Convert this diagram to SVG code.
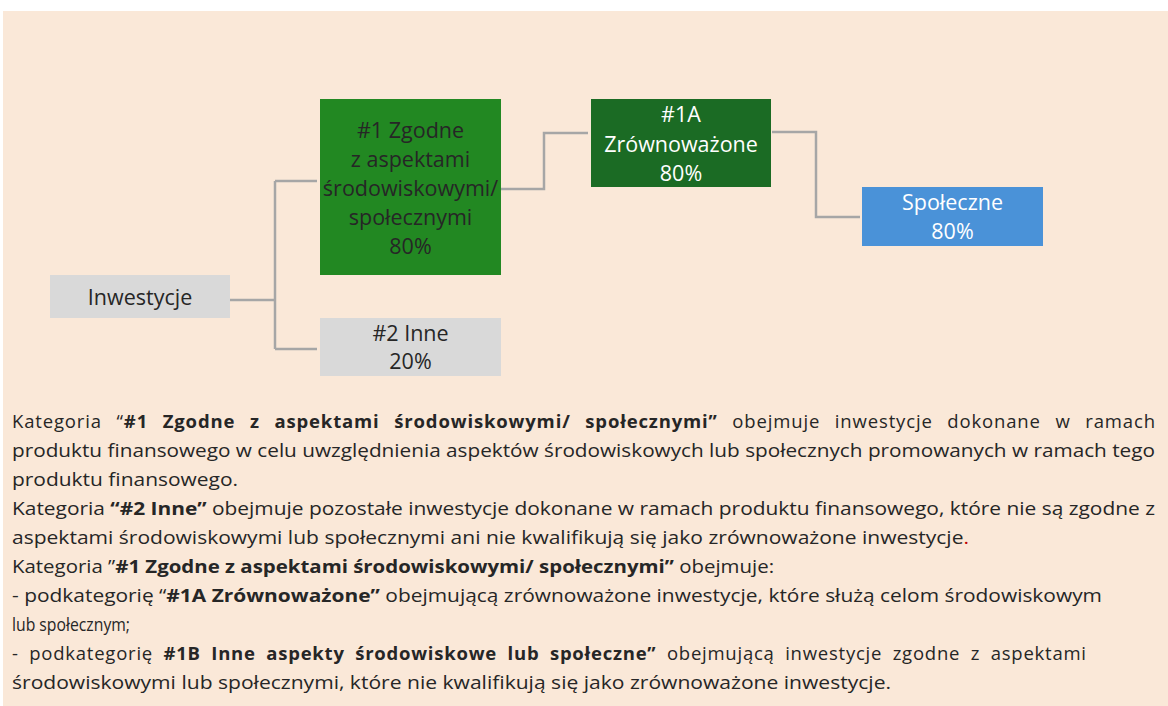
<svg xmlns="http://www.w3.org/2000/svg" width="1168" height="706" viewBox="0 0 1168 706">
<style>
.bt{font-family:"Open Sans","Liberation Sans",sans-serif;font-size:21.5px;text-anchor:middle}
.dk{fill:#262626}
.wt{fill:#ffffff}
.p{font-family:"Open Sans","Liberation Sans",sans-serif;font-size:18.5px;fill:#262626}
.b{font-weight:700}
.con{fill:none;stroke:#A6A6A6;stroke-width:2.5}
</style>
<rect x="3" y="11" width="1165" height="695" fill="#FAE8D8"/>
<g id="connectors">
<path class="con" d="M230,300 H275 M275,181 V349 M275,181 H317 M275,349 H317"/>
<path class="con" d="M501,189 H544 V133 H588"/>
<path class="con" d="M772,132 H816 V217 H860"/>
</g>
<g id="inwestycje">
<rect x="50" y="275" width="180" height="43" fill="#D9D9D9"/>
<text class="bt dk" x="140" y="305">Inwestycje</text>
</g>
<g id="zgodne">
<rect x="320" y="99" width="181" height="176" fill="#228822"/>
<text class="bt dk" x="410.5" y="137.5">#1 Zgodne</text>
<text class="bt dk" x="410.5" y="166.5">z aspektami</text>
<text class="bt dk" x="410.5" y="195.5">środowiskowymi/</text>
<text class="bt dk" x="410.5" y="224.5">społecznymi</text>
<text class="bt dk" x="410.5" y="253.5">80%</text>
</g>
<g id="inne">
<rect x="320" y="318" width="181" height="58" fill="#D9D9D9"/>
<text class="bt dk" x="410.5" y="341">#2 Inne</text>
<text class="bt dk" x="410.5" y="369">20%</text>
</g>
<g id="zrownowazone">
<rect x="591" y="99" width="180" height="88" fill="#1B6B24"/>
<text class="bt wt" x="681" y="122">#1A</text>
<text class="bt wt" x="681" y="152">Zrównoważone</text>
<text class="bt wt" x="681" y="181">80%</text>
</g>
<g id="spoleczne">
<rect x="862" y="187" width="181" height="59" fill="#4A92D8"/>
<text class="bt wt" x="952.5" y="210">Społeczne</text>
<text class="bt wt" x="952.5" y="239">80%</text>
</g>
<g id="opis">
<text class="p" x="12" y="428" word-spacing="9" textLength="1143" lengthAdjust="spacing">Kategoria “<tspan class="b">#1 Zgodne z aspektami środowiskowymi/ społecznymi”</tspan> obejmuje inwestycje dokonane w ramach</text>
<text class="p" x="12" y="457" textLength="1143" lengthAdjust="spacingAndGlyphs">produktu finansowego w celu uwzględnienia aspektów środowiskowych lub społecznych promowanych w ramach tego</text>
<text class="p" x="12" y="486" textLength="226" lengthAdjust="spacingAndGlyphs">produktu finansowego.</text>
<text class="p" x="12" y="515" textLength="1143" lengthAdjust="spacingAndGlyphs">Kategoria <tspan class="b">“#2 Inne”</tspan> obejmuje pozostałe inwestycje dokonane w ramach produktu finansowego, które nie są zgodne z</text>
<text class="p" x="12" y="544" textLength="957" lengthAdjust="spacingAndGlyphs">aspektami środowiskowymi lub społecznymi ani nie kwalifikują się jako zrównoważone inwestycje<tspan fill="#C00000">.</tspan></text>
<text class="p" x="12" y="573" textLength="762" lengthAdjust="spacingAndGlyphs">Kategoria ”<tspan class="b">#1 Zgodne z aspektami środowiskowymi/ społecznymi”</tspan> obejmuje:</text>
<text class="p" x="12" y="602" textLength="1090" lengthAdjust="spacingAndGlyphs">- podkategorię “<tspan class="b">#1A Zrównoważone”</tspan> obejmującą zrównoważone inwestycje, które służą celom środowiskowym</text>
<text class="p" x="12" y="631" textLength="118" lengthAdjust="spacingAndGlyphs">lub społecznym;</text>
<text class="p" x="12" y="660" word-spacing="5" textLength="1074" lengthAdjust="spacing">- podkategorię <tspan class="b">#1B Inne aspekty środowiskowe lub społeczne”</tspan> obejmującą inwestycje zgodne z aspektami</text>
<text class="p" x="12" y="689" textLength="879" lengthAdjust="spacingAndGlyphs">środowiskowymi lub społecznymi, które nie kwalifikują się jako zrównoważone inwestycje.</text>
</g>
</svg>
